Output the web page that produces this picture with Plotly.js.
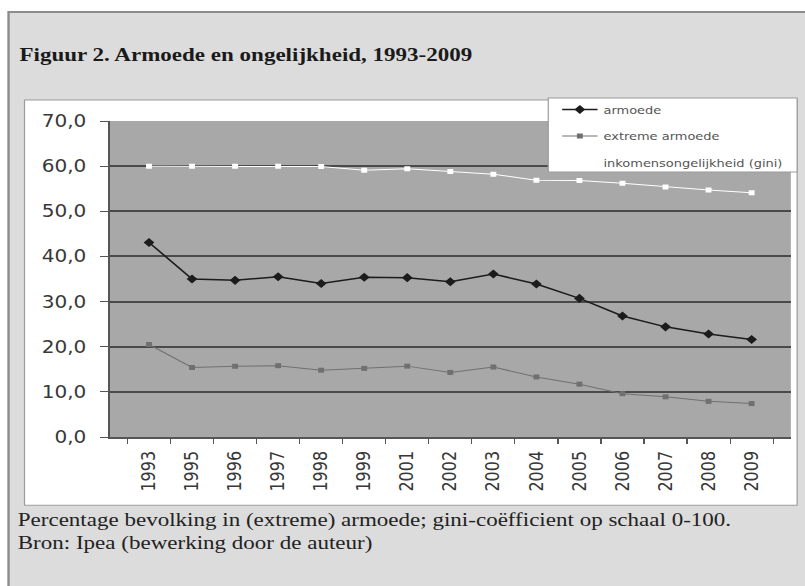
<!DOCTYPE html>
<html>
<head>
<meta charset="utf-8">
<script src="https://cdn.plot.ly/plotly-3.0.1.min.js"></script>
<style>
  html, body { margin: 0; padding: 0; background: #ffffff; overflow: hidden; }
  #chart { width: 682px; height: 586px; transform: scaleX(1.18035); transform-origin: 0 0; }
</style>
</head>
<body>
<div id="chart"></div>
<script>
// ---- data ----
const years = ['1993','1995','1996','1997','1998','1999','2001','2002','2003','2004','2005','2006','2007','2008','2009'];
const armoede = [43.1, 35.0, 34.7, 35.5, 34.0, 35.4, 35.3, 34.4, 36.1, 33.9, 30.7, 26.8, 24.4, 22.8, 21.6];
const extremeArmoede = [20.5, 15.4, 15.7, 15.8, 14.8, 15.2, 15.7, 14.3, 15.5, 13.3, 11.7, 9.6, 8.9, 7.9, 7.4];
const gini = [60.0, 60.0, 60.0, 60.0, 59.9, 59.1, 59.4, 58.8, 58.2, 56.9, 56.8, 56.2, 55.4, 54.7, 54.1];
const seriesNames = ['armoede', 'extreme armoede', 'inkomensongelijkheid (gini)'];
const titleText = 'Figuur 2. Armoede en ongelijkheid, 1993-2009';
const footer1 = 'Percentage bevolking in (extreme) armoede; gini-coëfficient op schaal 0-100.';
const footer2 = 'Bron: Ipea (bewerking door de auteur)';

// ---- layout helpers (reference pixel -> paper coords) ----
const W = 682, H = 586, S = 805 / W;
const PL = 109.3 / S, PR = 790.7 / S, PT = 121, PB = 436.7;
const px = X => (X / S - PL) / (PR - PL);
const py = Y => (PB - Y) / (PB - PT);

const tickFont = {family: 'DejaVu Sans', color: '#383838'};

const traces = [
  {x: years, y: armoede, name: seriesNames[0], type: 'scatter', mode: 'lines+markers', legendgroup: 'a',
   line: {color: '#1c1c1c', width: 1.5}, marker: {symbol: 'diamond', size: 7, color: '#1c1c1c'}},
  {x: years, y: extremeArmoede, name: seriesNames[1], type: 'scatter', mode: 'lines+markers', legendgroup: 'b',
   line: {color: '#707070', width: 1}, marker: {symbol: 'square', size: 5, color: '#707070'}},
  {x: years, y: gini, name: seriesNames[2], type: 'scatter', mode: 'lines+markers', legendgroup: 'c',
   line: {color: '#ffffff', width: 1}, marker: {symbol: 'square', size: 5, color: '#ffffff'}}
];

const layout = {
  width: W, height: H,
  margin: {l: PL, r: W - PR, t: PT, b: H - PB, pad: 0},
  paper_bgcolor: '#ffffff',
  plot_bgcolor: 'rgba(0,0,0,0)',
  separators: ',.',
  showlegend: true,
  title: {
    text: '<b>' + titleText + '</b>',
    font: {family: 'Liberation Serif', size: 19.5, color: '#1a1a1a'},
    xref: 'container', yref: 'container',
    x: 16.5 / W, xanchor: 'left',
    y: 1 - 54 / H, yanchor: 'middle'
  },
  xaxis: {
    type: 'category',
    tickangle: -90,
    ticks: 'outside', tickson: 'boundaries', ticklen: 5, tickcolor: '#555555', tickwidth: 1,
    showline: true, linecolor: '#555555', linewidth: 1.5,
    showgrid: false, zeroline: false,
    tickfont: Object.assign({size: 16}, tickFont),
    ticklabelstandoff: 6,
    fixedrange: true
  },
  yaxis: {
    range: [0, 70], tick0: 0, dtick: 10, tickformat: '.1f',
    ticks: 'outside', ticklen: 7, tickcolor: '#555555', tickwidth: 1,
    showline: true, linecolor: '#555555', linewidth: 1.5,
    showgrid: true, gridcolor: '#4a4a4a', gridwidth: 2,
    zeroline: false,
    tickfont: Object.assign({size: 17}, tickFont),
    ticklabelstandoff: 8,
    fixedrange: true
  },
  legend: {
    x: px(556), xanchor: 'left',
    y: py(95), yanchor: 'top',
    bgcolor: 'rgba(0,0,0,0)', borderwidth: 0,
    font: {family: 'DejaVu Sans', size: 11, color: '#555555'},
    traceorder: 'grouped', tracegroupgap: 7.5,
    itemclick: false, itemdoubleclick: false
  },
  shapes: [
    // outer grey frame
    {type: 'rect', xref: 'paper', yref: 'paper', x0: px(8), x1: px(812), y0: py(12), y1: py(600),
     fillcolor: '#dcdcdc', line: {color: '#8c8c8c', width: 2}, layer: 'below'},
    // white chart area
    {type: 'rect', xref: 'paper', yref: 'paper', x0: px(24), x1: px(797), y0: py(100), y1: py(505),
     fillcolor: '#ffffff', line: {color: '#9a9a9a', width: 1}, layer: 'below'},
    // plot background
    {type: 'rect', xref: 'x domain', yref: 'y domain', x0: 0, x1: 1, y0: 0, y1: 1,
     fillcolor: '#a8a8a8', line: {width: 0}, layer: 'below'},
    // legend box
    {type: 'rect', xref: 'paper', yref: 'paper', x0: px(548), x1: px(797), y0: py(98), y1: py(172),
     fillcolor: '#ffffff', line: {color: '#9a9a9a', width: 1}, layer: 'above'}
  ],
  annotations: [
    {text: footer1, xref: 'paper', yref: 'paper', x: px(15), y: py(520), xanchor: 'left', yanchor: 'middle',
     showarrow: false, font: {family: 'Liberation Serif', size: 19.5, color: '#222222'}},
    {text: footer2, xref: 'paper', yref: 'paper', x: px(15), y: py(543), xanchor: 'left', yanchor: 'middle',
     showarrow: false, font: {family: 'Liberation Serif', size: 19.5, color: '#222222'}}
  ]
};

Plotly.newPlot('chart', traces, layout, {displayModeBar: false, staticPlot: true});
</script>
</body>
</html>
